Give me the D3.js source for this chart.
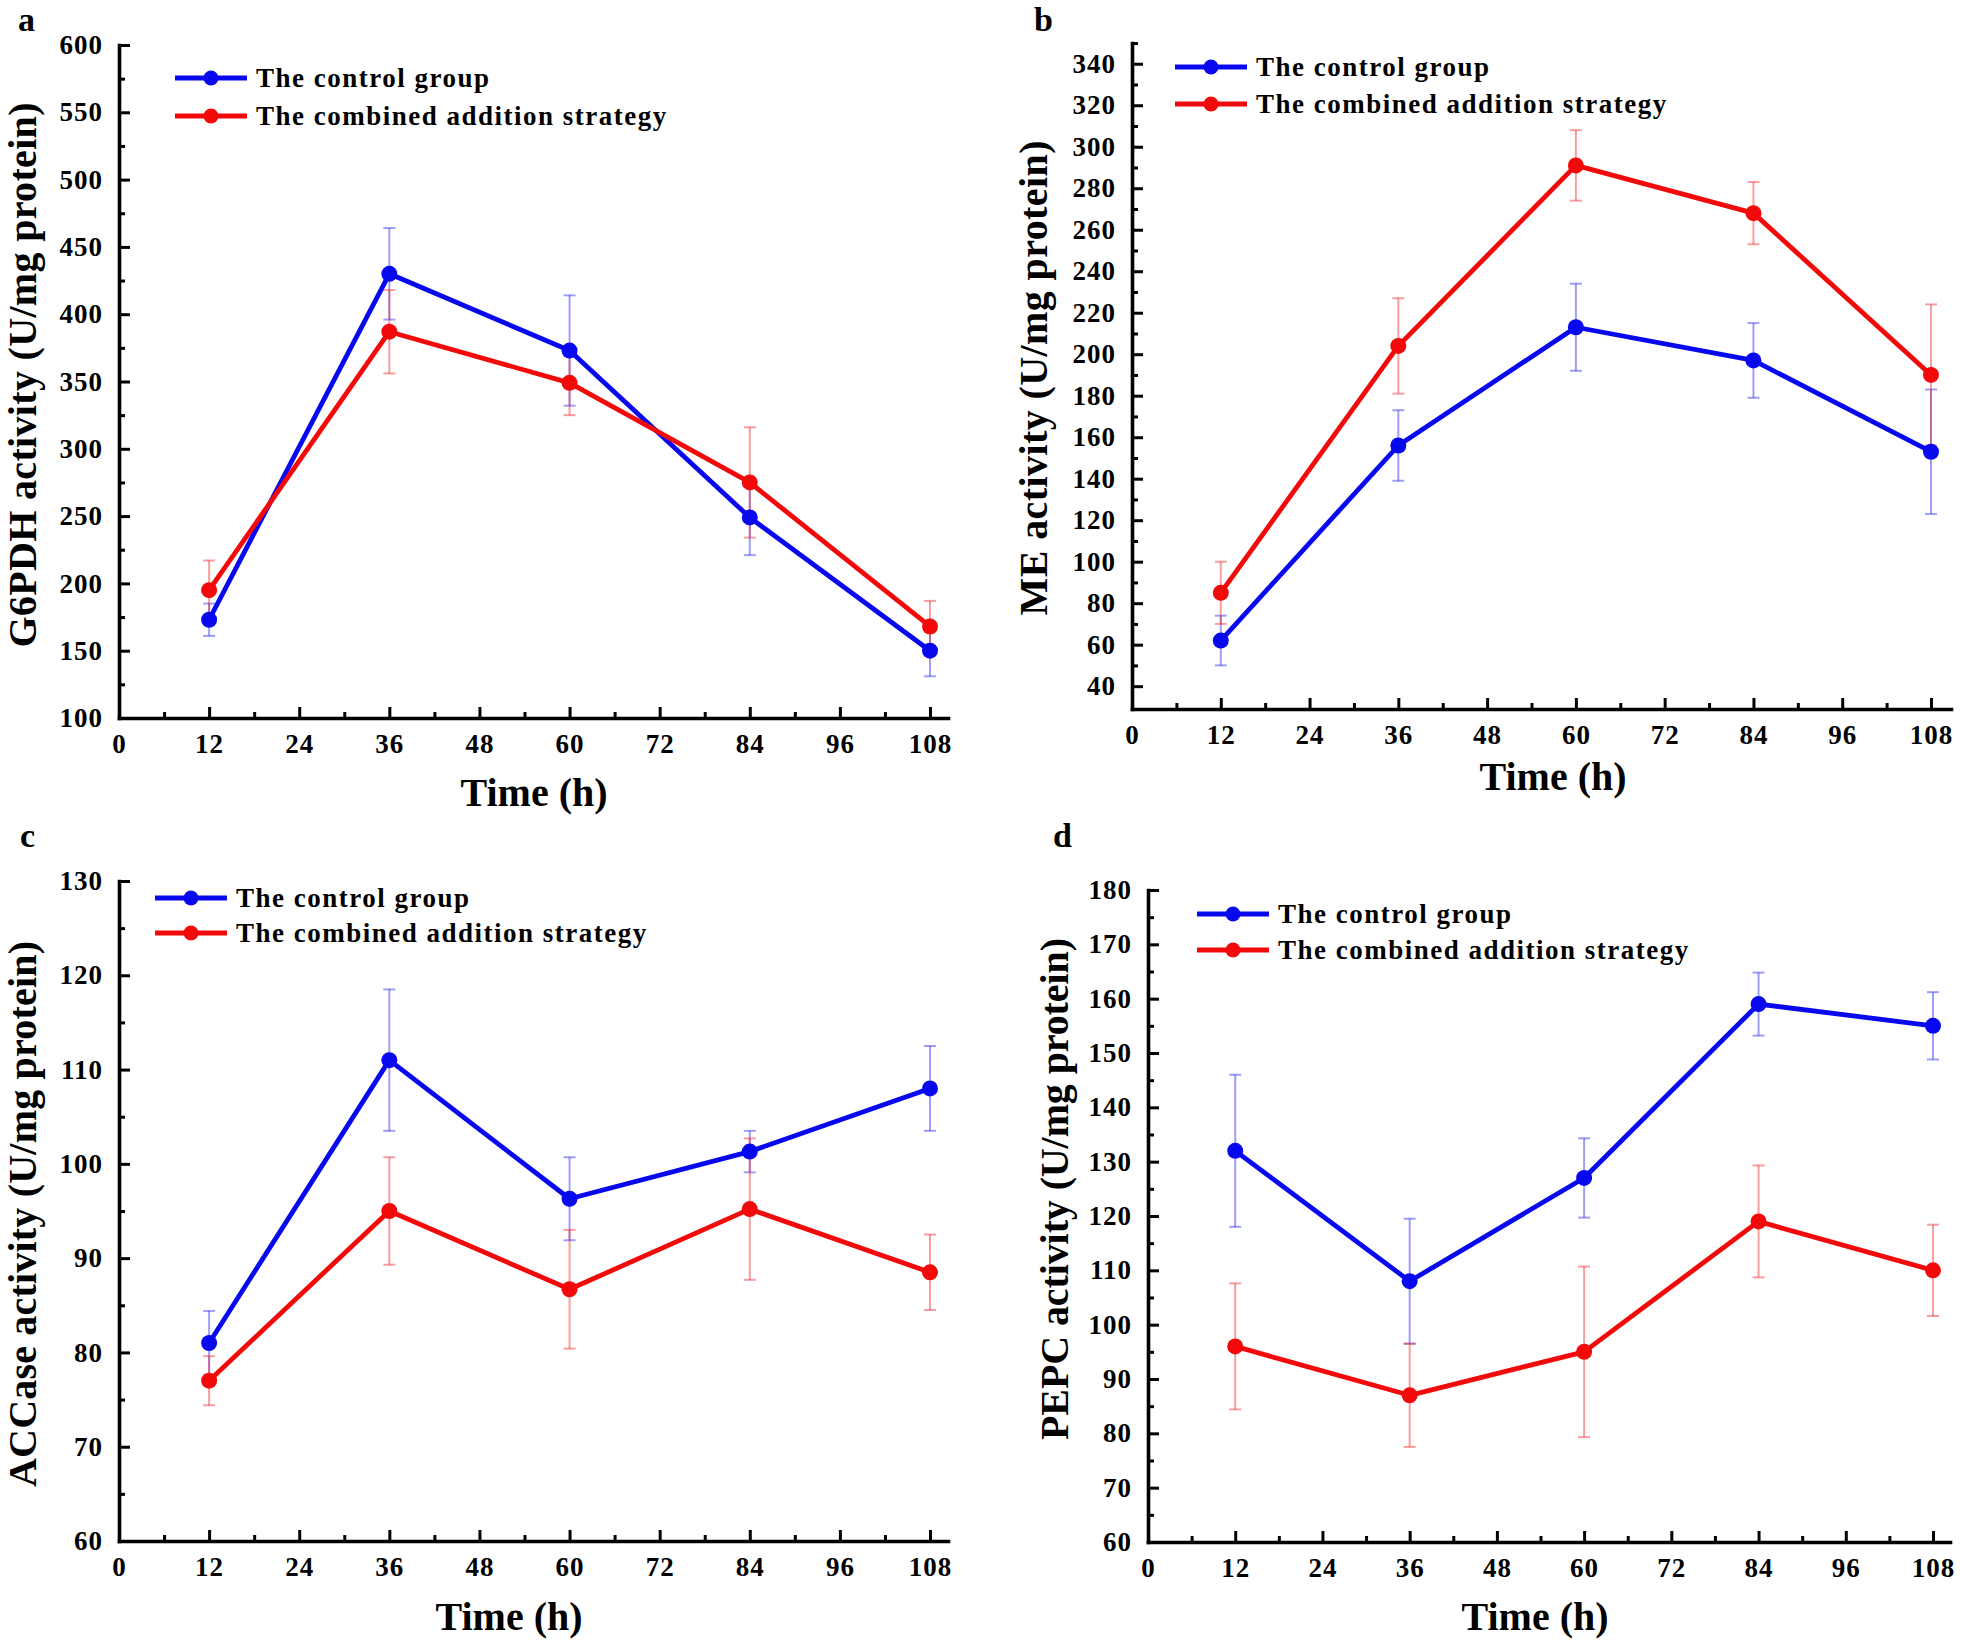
<!DOCTYPE html>
<html><head><meta charset="utf-8">
<script src="https://cdn.jsdelivr.net/npm/d3@7"></script>
<style>
body{margin:0;background:#fff}
svg{display:block}
text{font-family:"Liberation Serif","Times New Roman",serif;font-weight:bold;fill:#000}
</style>
</head><body>
<svg id="chart" width="1961" height="1642"></svg>
<script>
// ---------- data ----------
const times = [12, 36, 60, 84, 108];
const xTickValues = [0, 12, 24, 36, 48, 60, 72, 84, 96, 108];
const xMinorValues = [6, 18, 30, 42, 54, 66, 78, 90, 102];
const seriesNames = ["The control group", "The combined addition strategy"];

const g6pdhControl = [173, 430, 373, 249, 150];
const g6pdhControlErr = [12, 34, 41, 28, 19];
const g6pdhCombined = [195, 387, 349, 275, 168];
const g6pdhCombinedErr = [22, 31, 24, 41, 19];

const meControl = [62, 156, 213, 197, 153];
const meControlErr = [12, 17, 21, 18, 30];
const meCombined = [85, 204, 291, 268, 190];
const meCombinedErr = [15, 23, 17, 15, 34];

const accControl = [81, 111, 96.3, 101.3, 108];
const accControlErr = [3.4, 7.5, 4.4, 2.2, 4.5];
const accCombined = [77, 95, 86.7, 95.2, 88.5];
const accCombinedErr = [2.6, 5.7, 6.3, 7.5, 4];

const pepcControl = [132, 108, 127, 159, 155];
const pepcControlErr = [14, 11.5, 7.3, 5.8, 6.2];
const pepcCombined = [96, 87, 95, 119, 110];
const pepcCombinedErr = [11.6, 9.5, 15.7, 10.3, 8.4];

const g6pdhYTicks = [100, 150, 200, 250, 300, 350, 400, 450, 500, 550, 600];
const g6pdhYMinor = [125, 175, 225, 275, 325, 375, 425, 475, 525, 575];
const meYTicks = [40, 60, 80, 100, 120, 140, 160, 180, 200, 220, 240, 260, 280, 300, 320, 340];
const meYMinor = [50, 70, 90, 110, 130, 150, 170, 190, 210, 230, 250, 270, 290, 310, 330, 350];
const accYTicks = [60, 70, 80, 90, 100, 110, 120, 130];
const accYMinor = [65, 75, 85, 95, 105, 115, 125];
const pepcYTicks = [60, 70, 80, 90, 100, 110, 120, 130, 140, 150, 160, 170, 180];
const pepcYMinor = [65, 75, 85, 95, 105, 115, 125, 135, 145, 155, 165, 175];

const panelLetters = ["a", "b", "c", "d"];
const yTitles = ["G6PDH activity (U/mg protein)", "ME activity (U/mg protein)",
                 "ACCase activity (U/mg protein)", "PEPC activity (U/mg protein)"];
const xTitle = "Time (h)";

// ---------- layout ----------
const colors = ["#0808ee", "#f20a0a"];
const errColors = ["rgba(40,40,240,0.45)", "rgba(240,40,40,0.45)"];

const panels = [
  {letter: panelLetters[0], letterPos: [18, 31], x0: 119, x108: 930, xEnd: 948, yTop: 45, yBot: 718,
   yDom: [100, 600], yTicks: g6pdhYTicks, yMinor: g6pdhYMinor, yTitle: yTitles[0], yTitlePos: [36, 375], yTitleLen: 545,
   xTitlePos: [534, 806], leg: [175, 78, 116],
   series: [[g6pdhControl, g6pdhControlErr], [g6pdhCombined, g6pdhCombinedErr]]},
  {letter: panelLetters[1], letterPos: [1034, 31], x0: 1132, x108: 1931, xEnd: 1951, yTop: 43, yBot: 709,
   yDom: [29, 350], yTicks: meYTicks, yMinor: meYMinor, yTitle: yTitles[1], yTitlePos: [1047, 378], yTitleLen: 475,
   xTitlePos: [1553, 790], leg: [1175, 67, 104],
   series: [[meControl, meControlErr], [meCombined, meCombinedErr]]},
  {letter: panelLetters[2], letterPos: [20, 847], x0: 119, x108: 930, xEnd: 948, yTop: 881, yBot: 1541,
   yDom: [60, 130], yTicks: accYTicks, yMinor: accYMinor, yTitle: yTitles[2], yTitlePos: [36, 1214], yTitleLen: 546,
   xTitlePos: [509, 1630], leg: [155, 898, 933],
   series: [[accControl, accControlErr], [accCombined, accCombinedErr]]},
  {letter: panelLetters[3], letterPos: [1053, 847], x0: 1148, x108: 1933, xEnd: 1950, yTop: 890, yBot: 1542,
   yDom: [60, 180], yTicks: pepcYTicks, yMinor: pepcYMinor, yTitle: yTitles[3], yTitlePos: [1068, 1189], yTitleLen: 502,
   xTitlePos: [1535, 1630], leg: [1197, 914, 950],
   series: [[pepcControl, pepcControlErr], [pepcCombined, pepcCombinedErr]]}
];

const svg = d3.select("#chart");

panels.forEach(p => {
  const g = svg.append("g");
  const xMax = 108 * (p.xEnd - p.x0) / (p.x108 - p.x0);
  const x = d3.scaleLinear().domain([0, xMax]).range([p.x0, p.xEnd]);
  const y = d3.scaleLinear().domain(p.yDom).range([p.yBot, p.yTop]);

  // minor ticks
  const xMinorAxis = d3.axisBottom(x).tickValues(xMinorValues).tickSize(-6).tickFormat("");
  g.append("g").attr("transform", `translate(0,${p.yBot})`).call(xMinorAxis)
    .call(s => s.select(".domain").remove())
    .call(s => s.selectAll("line").attr("stroke", "#000").attr("stroke-width", 3));
  const yMinorAxis = d3.axisLeft(y).tickValues(p.yMinor).tickSize(-6).tickFormat("");
  g.append("g").attr("transform", `translate(${p.x0},0)`).call(yMinorAxis)
    .call(s => s.select(".domain").remove())
    .call(s => s.selectAll("line").attr("stroke", "#000").attr("stroke-width", 3));

  // major x axis
  const xAxis = d3.axisBottom(x).tickValues(xTickValues).tickSizeInner(-11).tickSizeOuter(0).tickPadding(16);
  g.append("g").attr("transform", `translate(0,${p.yBot})`).call(xAxis)
    .call(s => s.select(".domain").attr("stroke", "#000").attr("stroke-width", 3.6).attr("stroke-linecap", "square"))
    .call(s => s.selectAll(".tick line").attr("stroke", "#000").attr("stroke-width", 3))
    .call(s => s.selectAll(".tick text").attr("font-size", 27).attr("letter-spacing", 1)
      .attr("font-family", "Liberation Serif").attr("font-weight", "bold").attr("fill", "#000"));

  // major y axis
  const yAxis = d3.axisLeft(y).tickValues(p.yTicks).tickSizeInner(-11).tickSizeOuter(0).tickPadding(16);
  g.append("g").attr("transform", `translate(${p.x0},0)`).call(yAxis)
    .call(s => s.select(".domain").attr("stroke", "#000").attr("stroke-width", 3.6).attr("stroke-linecap", "square"))
    .call(s => s.selectAll(".tick text").attr("font-size", 27).attr("letter-spacing", 1)
      .attr("font-family", "Liberation Serif").attr("font-weight", "bold").attr("fill", "#000"))
    .call(s => s.selectAll(".tick line").attr("stroke", "#000").attr("stroke-width", 3));

  // error bars
  p.series.forEach(([vals, errs], si) => {
    const eg = g.append("g").attr("stroke", errColors[si]).attr("stroke-width", 2).attr("fill", "none");
    times.forEach((t, i) => {
      const cx = x(t), yt = y(vals[i] + errs[i]), yb = y(vals[i] - errs[i]);
      eg.append("line").attr("x1", cx).attr("x2", cx).attr("y1", yt).attr("y2", yb);
      eg.append("line").attr("x1", cx - 6).attr("x2", cx + 6).attr("y1", yt).attr("y2", yt);
      eg.append("line").attr("x1", cx - 6).attr("x2", cx + 6).attr("y1", yb).attr("y2", yb);
    });
  });

  // lines + markers
  const line = d3.line().x((d, i) => x(times[i])).y(d => y(d));
  p.series.forEach(([vals], si) => {
    g.append("path").datum(vals).attr("d", line).attr("fill", "none")
      .attr("stroke", colors[si]).attr("stroke-width", 4.8).attr("stroke-linejoin", "round");
    g.selectAll(null).data(vals).enter().append("circle")
      .attr("cx", (d, i) => x(times[i])).attr("cy", d => y(d)).attr("r", 8).attr("fill", colors[si]);
  });

  // legend
  seriesNames.forEach((name, si) => {
    const ly = p.leg[1 + si];
    g.append("line").attr("x1", p.leg[0]).attr("x2", p.leg[0] + 72).attr("y1", ly).attr("y2", ly)
      .attr("stroke", colors[si]).attr("stroke-width", 4.8);
    g.append("circle").attr("cx", p.leg[0] + 36).attr("cy", ly).attr("r", 7.5).attr("fill", colors[si]);
    g.append("text").attr("x", p.leg[0] + 81).attr("y", ly + 9).attr("font-size", 27)
      .attr("letter-spacing", 1.5).text(name);
  });

  // titles
  g.append("text").attr("transform", `translate(${p.yTitlePos[0]},${p.yTitlePos[1]}) rotate(-90)`)
    .attr("text-anchor", "middle").attr("font-size", 40)
    .attr("textLength", p.yTitleLen).attr("lengthAdjust", "spacing").text(p.yTitle);
  g.append("text").attr("x", p.xTitlePos[0]).attr("y", p.xTitlePos[1]).attr("text-anchor", "middle")
    .attr("font-size", 40).text(xTitle);
  g.append("text").attr("x", p.letterPos[0]).attr("y", p.letterPos[1]).attr("font-size", 34).text(p.letter);
});
</script>
</body></html>
